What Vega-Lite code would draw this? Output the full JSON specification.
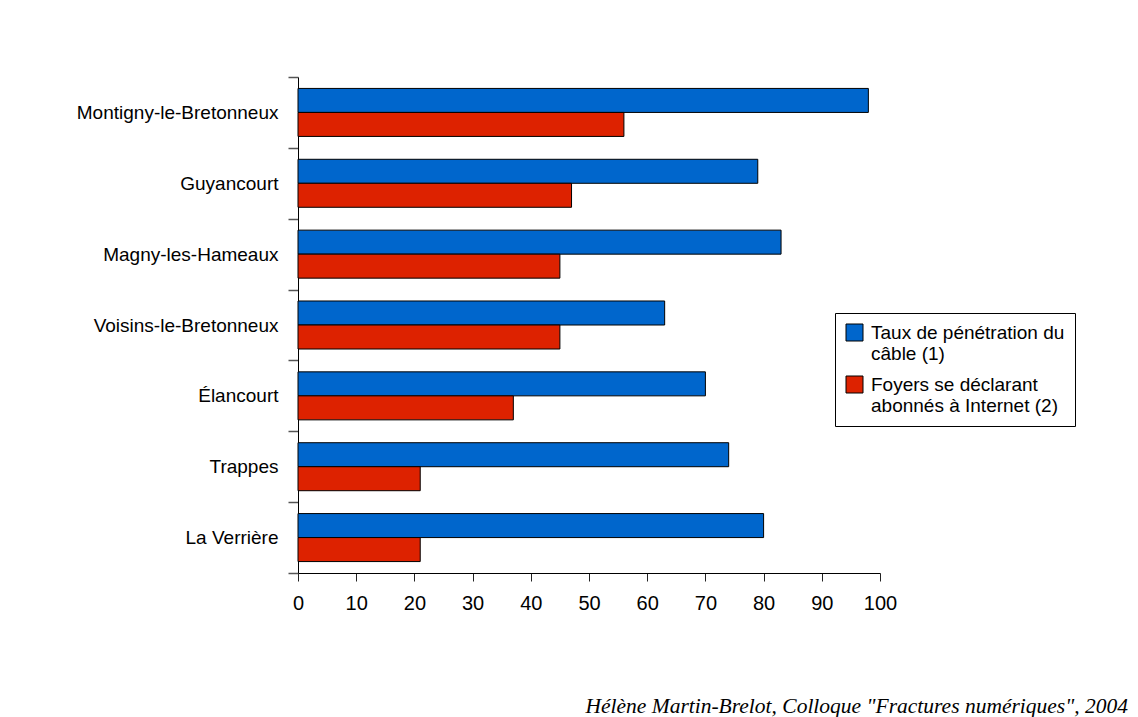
{
  "$schema": "https://vega.github.io/schema/vega-lite/v6.json",
  "width": 582,
  "height": 496,
  "autosize": {"type": "none"},
  "padding": {"left": 298, "top": 77, "right": 258, "bottom": 144},
  "background": "white",
  "title": {
    "text": "Hélène Martin-Brelot, Colloque \"Fractures numériques\", 2004",
    "orient": "bottom",
    "anchor": "end",
    "frame": "group",
    "dx": 248,
    "offset": 83,
    "font": "Liberation Serif",
    "fontSize": 21.5,
    "fontStyle": "italic",
    "fontWeight": "normal",
    "color": "black"
  },
  "data": {
    "values": [
      {"commune": "Montigny-le-Bretonneux", "serie": "Taux de pénétration du câble (1)", "valeur": 98},
      {"commune": "Montigny-le-Bretonneux", "serie": "Foyers se déclarant abonnés à Internet (2)", "valeur": 56},
      {"commune": "Guyancourt", "serie": "Taux de pénétration du câble (1)", "valeur": 79},
      {"commune": "Guyancourt", "serie": "Foyers se déclarant abonnés à Internet (2)", "valeur": 47},
      {"commune": "Magny-les-Hameaux", "serie": "Taux de pénétration du câble (1)", "valeur": 83},
      {"commune": "Magny-les-Hameaux", "serie": "Foyers se déclarant abonnés à Internet (2)", "valeur": 45},
      {"commune": "Voisins-le-Bretonneux", "serie": "Taux de pénétration du câble (1)", "valeur": 63},
      {"commune": "Voisins-le-Bretonneux", "serie": "Foyers se déclarant abonnés à Internet (2)", "valeur": 45},
      {"commune": "Élancourt", "serie": "Taux de pénétration du câble (1)", "valeur": 70},
      {"commune": "Élancourt", "serie": "Foyers se déclarant abonnés à Internet (2)", "valeur": 37},
      {"commune": "Trappes", "serie": "Taux de pénétration du câble (1)", "valeur": 74},
      {"commune": "Trappes", "serie": "Foyers se déclarant abonnés à Internet (2)", "valeur": 21},
      {"commune": "La Verrière", "serie": "Taux de pénétration du câble (1)", "valeur": 80},
      {"commune": "La Verrière", "serie": "Foyers se déclarant abonnés à Internet (2)", "valeur": 21}
    ]
  },
  "mark": {"type": "bar", "stroke": "black", "strokeWidth": 1, "opacity": 1},
  "encoding": {
    "y": {
      "field": "commune",
      "type": "nominal",
      "sort": null,
      "scale": {"paddingInner": 0, "paddingOuter": 0},
      "axis": {
        "title": null,
        "tickBand": "extent",
        "tickSize": 10,
        "tickColor": "#555",
        "tickWidth": 1.5,
        "domainColor": "black",
        "domainWidth": 1,
        "labelFont": "Liberation Sans",
        "labelFontSize": 19,
        "labelColor": "black",
        "labelPadding": 10,
        "labelLimit": 300,
        "grid": false
      }
    },
    "yOffset": {
      "field": "serie",
      "type": "nominal",
      "sort": ["Taux de pénétration du câble (1)", "Foyers se déclarant abonnés à Internet (2)"],
      "scale": {"paddingInner": 0, "paddingOuter": 0.476}
    },
    "x": {
      "field": "valeur",
      "type": "quantitative",
      "scale": {"domain": [0, 100], "nice": false},
      "axis": {
        "title": null,
        "values": [0, 10, 20, 30, 40, 50, 60, 70, 80, 90, 100],
        "tickSize": 8,
        "tickColor": "#222",
        "domainColor": "black",
        "labelFont": "Liberation Sans",
        "labelFontSize": 20,
        "labelColor": "black",
        "labelPadding": 12,
        "labelFlush": false,
        "labelOverlap": false,
        "grid": false
      }
    },
    "color": {
      "field": "serie",
      "type": "nominal",
      "sort": ["Taux de pénétration du câble (1)", "Foyers se déclarant abonnés à Internet (2)"],
      "scale": {"range": ["#0066CC", "#DD2200"]},
      "legend": {
        "title": null,
        "orient": "none",
        "legendX": 537,
        "legendY": 236,
        "strokeColor": "black",
        "fillColor": "white",
        "padding": 10,
        "symbolType": "square",
        "symbolSize": 289,
        "symbolStrokeColor": "black",
        "symbolStrokeWidth": 1,
        "symbolOpacity": 1,
        "labelFont": "Liberation Sans",
        "labelFontSize": 19,
        "labelColor": "black",
        "labelLimit": 400,
        "labelLineHeight": 23,
        "labelOffset": 7,
        "rowPadding": 10,
        "labelExpr": "datum.label == 'Taux de pénétration du câble (1)' ? ['Taux de pénétration du', 'câble (1)'] : ['Foyers se déclarant', 'abonnés à Internet (2)']"
      }
    }
  },
  "config": {"view": {"stroke": null}}
}
